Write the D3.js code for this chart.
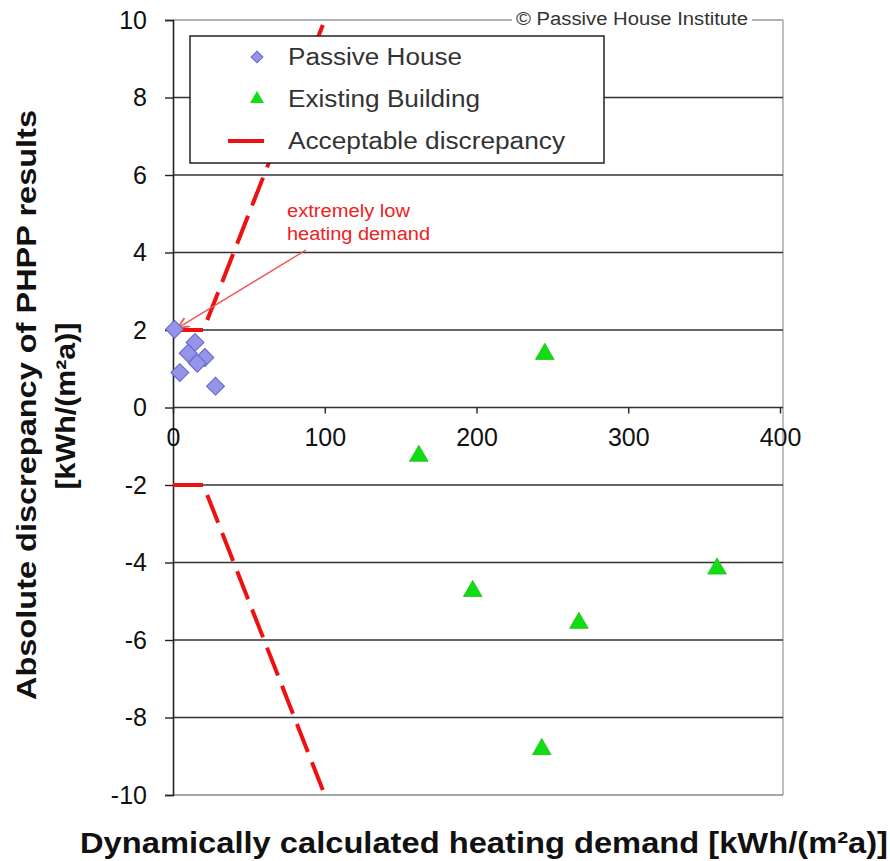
<!DOCTYPE html>
<html><head><meta charset="utf-8">
<script src="https://cdn.jsdelivr.net/npm/d3@7"></script>
<style>body{margin:0;background:#fff}svg{display:block}text{font-family:"Liberation Sans",Arial,sans-serif}</style>
</head><body><svg id="c" width="890" height="861"></svg>
<script>
const passiveX = [1, 14.5, 10, 21, 16, 4.5, 28];
const passiveY = [2.02, 1.68, 1.40, 1.29, 1.14, 0.90, 0.55];
const existingX = [245, 162, 197.5, 267.5, 358.5, 243];
const existingY = [1.38, -1.25, -4.74, -5.56, -4.16, -8.82];
const limitX = [0, 20, 100];
const limitUpper = [2, 2, 10];
const limitLower = [-2, -2, -10];
const xTicks = [0, 100, 200, 300, 400];
const yTicks = [-10, -8, -6, -4, -2, 0, 2, 4, 6, 8, 10];
const legendLabels = ["Passive House", "Existing Building", "Acceptable discrepancy"];

const svg = d3.select("#c");
const x = d3.scaleLinear().domain([0, 400]).range([173, 780]);
const y = d3.scaleLinear().domain([-10, 10]).range([795, 20]);

// frame (gray) top, right, bottom
svg.append("line").attr("x1", x(0)).attr("x2", 783).attr("y1", y(10)).attr("y2", y(10)).attr("stroke", "#999").attr("stroke-width", 1.5);
svg.append("line").attr("x1", 783).attr("x2", 783).attr("y1", y(10)).attr("y2", y(-10)).attr("stroke", "#aaa").attr("stroke-width", 1.5);
svg.append("line").attr("x1", x(0)).attr("x2", 783).attr("y1", y(-10)).attr("y2", y(-10)).attr("stroke", "#888").attr("stroke-width", 1.5);

// gridlines
svg.append("g").selectAll("line").data(yTicks.filter(d => Math.abs(d) < 10)).join("line")
  .attr("x1", x(0)).attr("x2", 783).attr("y1", d => y(d)).attr("y2", d => y(d))
  .attr("stroke", "#333").attr("stroke-width", 1.6);

// y axis
const yAxis = d3.axisLeft(y).tickValues(yTicks).tickSize(8).tickPadding(18).tickFormat(d3.format("d"));
const gy = svg.append("g").attr("transform", `translate(${x(0)},0)`).call(yAxis);
gy.select(".domain").attr("stroke", "#222").attr("stroke-width", 1.6);
gy.selectAll(".tick line").attr("stroke", "#222").attr("stroke-width", 1.4);
gy.selectAll("text").attr("font-size", 25).attr("fill", "#111").text(d => d < 0 ? "-" + Math.abs(d) : d);

// x axis at y=0
const xAxis = d3.axisBottom(x).tickValues(xTicks).tickSize(6).tickPadding(15).tickFormat(d3.format("d"));
const gx = svg.append("g").attr("transform", `translate(0,${y(0)})`).call(xAxis);
gx.select(".domain").remove();
gx.selectAll(".tick line").attr("stroke", "#222").attr("stroke-width", 1.4);
gx.selectAll("text").attr("font-size", 25).attr("fill", "#111");

// acceptable discrepancy lines
const line = d3.line().x(d => x(d[0])).y(d => y(d[1]));
[limitUpper, limitLower].forEach(arr => {
  svg.append("path").datum(limitX.map((v, i) => [v, arr[i]])).attr("d", line)
    .attr("fill", "none").attr("stroke", "#ee1111").attr("stroke-width", 4)
    .attr("stroke-dasharray", "30,11");
});

// annotation
svg.append("defs").append("marker").attr("id", "ah").attr("viewBox", "0 0 10 10").attr("refX", 9).attr("refY", 5)
  .attr("markerWidth", 9).attr("markerHeight", 9).attr("orient", "auto")
  .append("path").attr("d", "M0,1 L9,5 L0,9").attr("fill", "none").attr("stroke", "#f25555").attr("stroke-width", 1.4);
svg.append("line").attr("x1", 306).attr("y1", 250).attr("x2", x(3)).attr("y2", y(2.05))
  .attr("stroke", "#f25555").attr("stroke-width", 1.4).attr("marker-end", "url(#ah)");
svg.append("text").attr("x", 287).attr("y", 217).attr("font-size", 18).attr("fill", "#ee2222")
  .attr("textLength", 123).attr("lengthAdjust", "spacingAndGlyphs").text("extremely low");
svg.append("text").attr("x", 287).attr("y", 240).attr("font-size", 18).attr("fill", "#ee2222")
  .attr("textLength", 143).attr("lengthAdjust", "spacingAndGlyphs").text("heating demand");

// passive house diamonds (rotated squares)
const dsym = d3.symbol().type(d3.symbolSquare).size(160);
svg.append("g").selectAll("path").data(passiveX.map((v, i) => [v, passiveY[i]])).join("path")
  .attr("d", dsym).attr("transform", d => `translate(${x(d[0])},${y(d[1])}) rotate(45)`)
  .attr("fill", "#9494ea").attr("stroke", "#6464c4").attr("stroke-width", 1);

// existing building triangles
const tsym = d3.symbol().type(d3.symbolTriangle).size(150);
svg.append("g").selectAll("path").data(existingX.map((v, i) => [v, existingY[i]])).join("path")
  .attr("d", tsym).attr("transform", d => `translate(${x(d[0])},${y(d[1])})`)
  .attr("fill", "#11dd11").attr("stroke", "#22bb22").attr("stroke-width", 0.8);

// legend
const lg = svg.append("g");
lg.append("rect").attr("x", 190).attr("y", 36).attr("width", 414).attr("height", 127)
  .attr("fill", "#fff").attr("stroke", "#222").attr("stroke-width", 1.5);
const ly = [57, 99, 141];
const legendLen = [174, 192, 277];
lg.append("path").attr("d", d3.symbol().type(d3.symbolSquare).size(70)).attr("transform", `translate(257,${ly[0]}) rotate(45)`)
  .attr("fill", "#9494ea").attr("stroke", "#6464c4");
lg.append("path").attr("d", d3.symbol().type(d3.symbolTriangle).size(85)).attr("transform", `translate(257,${ly[1]})`)
  .attr("fill", "#11dd11");
lg.append("line").attr("x1", 228).attr("x2", 264).attr("y1", ly[2]).attr("y2", ly[2]).attr("stroke", "#ee1111").attr("stroke-width", 4);
lg.selectAll("text.l").data(legendLabels).join("text").attr("class", "l")
  .attr("x", 288).attr("y", (d, i) => ly[i] + 8).attr("font-size", 23).attr("fill", "#333")
  .attr("textLength", (d, i) => legendLen[i]).attr("lengthAdjust", "spacingAndGlyphs").text(d => d);

// copyright with white backing
const cpg = svg.append("g");
const cpBg = cpg.append("rect").attr("fill", "#fff");
const cp = cpg.append("text").attr("x", 516).attr("y", 25).attr("font-size", 18).attr("fill", "#333")
  .attr("textLength", 232).attr("lengthAdjust", "spacingAndGlyphs").text("© Passive House Institute");
cpBg.attr("x", 512).attr("y", 10).attr("width", 240).attr("height", 18);

// axis titles
svg.append("text").attr("transform", `translate(36,405) rotate(-90)`).attr("text-anchor", "middle")
  .attr("font-size", 28).attr("font-weight", "bold").attr("fill", "#111")
  .attr("textLength", 590).attr("lengthAdjust", "spacingAndGlyphs").text("Absolute discrepancy of PHPP results");
svg.append("text").attr("transform", `translate(75,406) rotate(-90)`).attr("text-anchor", "middle")
  .attr("font-size", 28).attr("font-weight", "bold").attr("fill", "#111")
  .attr("textLength", 167).attr("lengthAdjust", "spacingAndGlyphs").text("[kWh/(m²a)]");
svg.append("text").attr("x", 484).attr("y", 853).attr("text-anchor", "middle")
  .attr("font-size", 30).attr("font-weight", "bold").attr("fill", "#111")
  .attr("textLength", 808).attr("lengthAdjust", "spacingAndGlyphs").text("Dynamically calculated heating demand [kWh/(m²a)]");
</script></body></html>
